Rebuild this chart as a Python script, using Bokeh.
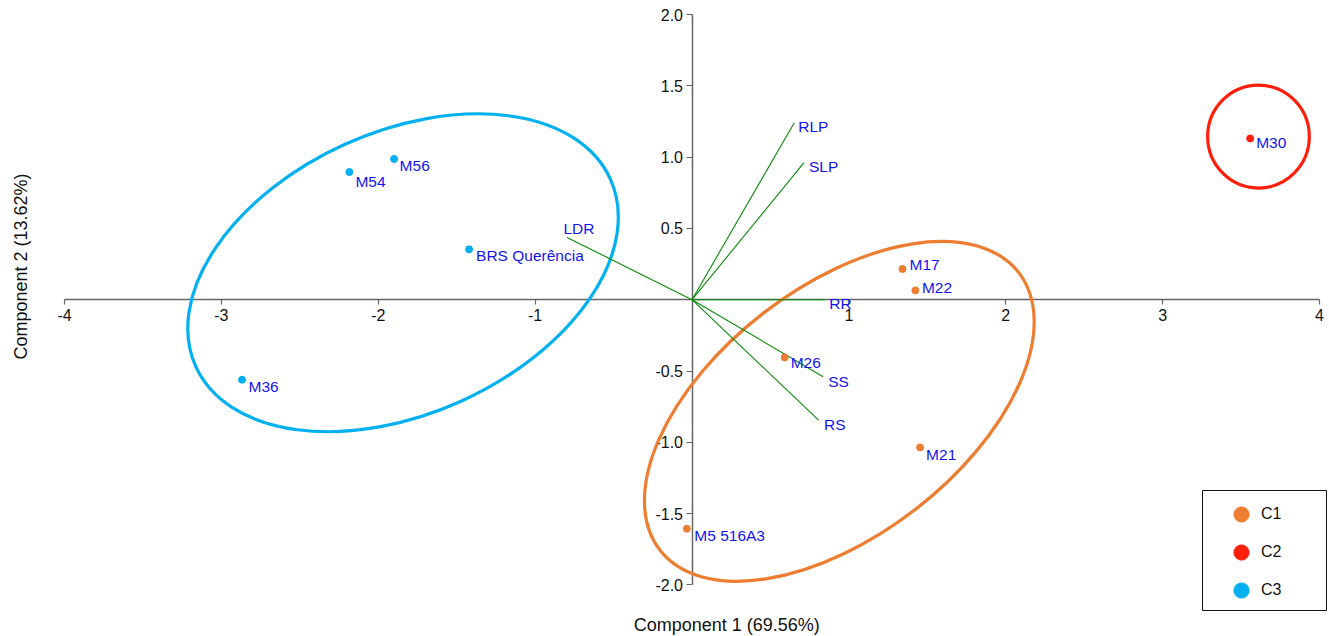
import math
from bokeh.plotting import figure
from bokeh.models import (Range1d, LinearAxis, FixedTicker, NumeralTickFormatter,
                          ColumnDataSource, Legend, LegendItem, Label, BoxAnnotation)
from bokeh.core.properties import value
from bokeh.embed import file_html
from bokeh.resources import INLINE

# ---------------- data ----------------
SAMPLES = ["M17", "M22", "M26", "M21", "M5 516A3", "M30", "M56", "M54", "BRS Querência", "M36"]
PC1 = [1.342, 1.424, 0.591, 1.454, -0.033, 3.558, -1.899, -2.184, -1.421, -2.868]
PC2 = [0.215, 0.065, -0.405, -1.036, -1.606, 1.131, 0.987, 0.895, 0.353, -0.561]
CLUSTER = ["C1", "C1", "C1", "C1", "C1", "C2", "C3", "C3", "C3", "C3"]

VARIABLES = ["RLP", "SLP", "LDR", "RR", "SS", "RS"]
LOAD1 = [0.652, 0.714, -0.797, 0.850, 0.836, 0.807]
LOAD2 = [1.241, 0.961, 0.437, 0.000, -0.540, -0.844]

CLUSTERS = ["C1", "C2", "C3"]
ELL_X = [0.939, 3.611, -1.842]
ELL_Y = [-0.783, 1.144, 0.189]
ELL_W = [2.892, 0.648, 2.900]
ELL_H = [1.742, 0.722, 1.978]
ELL_ANGLE_DEG = [37.7, 0.0, 24.3]

X_TICKS = [-4, -3, -2, -1, 1, 2, 3, 4]
Y_TICKS = [-2.0, -1.5, -1.0, -0.5, 0.5, 1.0, 1.5, 2.0]
X_BOUNDS = (-4, 4)
Y_BOUNDS = (-2, 2)
X_TITLE = "Component 1 (69.56%)"
Y_TITLE = "Component 2 (13.62%)"

# ---------------- layout & styles ----------------
W, H = 1327, 635
AX_LEFT_PX, AX_RIGHT_PX = 64.0, 1319.0     # where x = -4 and x = 4 sit
AX_TOP_PX, AX_BOTTOM_PX = 14.0, 584.4      # where y = 2 and y = -2 sit
UX = (AX_RIGHT_PX - AX_LEFT_PX) / (X_BOUNDS[1] - X_BOUNDS[0])
UY = (AX_BOTTOM_PX - AX_TOP_PX) / (Y_BOUNDS[1] - Y_BOUNDS[0])
X_START = X_BOUNDS[0] - AX_LEFT_PX / UX
X_END = X_BOUNDS[1] + (W - AX_RIGHT_PX) / UX
Y_END = Y_BOUNDS[1] + AX_TOP_PX / UY
Y_START = Y_BOUNDS[0] - (H - AX_BOTTOM_PX) / UY


def px2x(px):
    return X_START + px / UX


def py2y(py):
    return Y_END - py / UY


FONT = "Liberation Sans"
COLORS = {"C1": "#ED7D31", "C2": "#FF1E0A", "C3": "#00B0F0"}
LABEL_COLOR = "#1414F0"
AXIS_COLOR = "#666666"
VEC_COLOR = "#0A8A0A"
TEXT_COLOR = "#111111"
S_DX = [7, 6.5, 6, 6, 7.5, 6, 5.5, 6, 7, 6.5]
S_DY = [-5, -2.5, 5, 7, 7, 4, 7, 9, 6.5, 7]
V_DX = [4, 5, -3.5, 4, 5, 5.5]
V_DY = [4, 4, -9, 4, 4.5, 4]

p = figure(width=W, height=H,
           x_range=Range1d(X_START, X_END), y_range=Range1d(Y_START, Y_END),
           x_axis_type=None, y_axis_type=None,
           output_backend="svg", toolbar_location=None,
           min_border=0, min_border_left=0, min_border_right=0,
           min_border_top=0, min_border_bottom=0)
p.outline_line_color = None
p.background_fill_color = "white"
p.border_fill_color = "white"

# axes crossing at the origin
xax = LinearAxis(fixed_location=0, ticker=FixedTicker(ticks=X_TICKS),
                 formatter=NumeralTickFormatter(format="0"), bounds=X_BOUNDS)
yax = LinearAxis(fixed_location=0, ticker=FixedTicker(ticks=Y_TICKS),
                 formatter=NumeralTickFormatter(format="0.0"), bounds=Y_BOUNDS)
for ax, tout, stand in ((xax, 5, 4), (yax, 6, 3)):
    ax.level = "underlay"
    ax.axis_line_color = AXIS_COLOR
    ax.axis_line_width = 1.5
    ax.major_tick_line_color = AXIS_COLOR
    ax.major_tick_line_width = 1.2
    ax.major_tick_in = 0
    ax.major_tick_out = tout
    ax.minor_tick_line_color = None
    ax.major_label_text_font = FONT
    ax.major_label_text_font_size = "16px"
    ax.major_label_text_color = TEXT_COLOR
    ax.major_label_standoff = stand
p.add_layout(xax, "below")
p.add_layout(yax, "left")

# axis titles
p.add_layout(Label(x=px2x(726.3), y=py2y(624.3), text=X_TITLE,
                   text_align="center", text_baseline="middle",
                   text_font=FONT, text_font_size="18px", text_color=TEXT_COLOR))
p.add_layout(Label(x=px2x(20.3), y=py2y(266.0), text=Y_TITLE, angle=math.pi / 2,
                   text_align="center", text_baseline="middle",
                   text_font=FONT, text_font_size="18px", text_color=TEXT_COLOR))

# cluster ellipses
ell_src = ColumnDataSource(dict(x=ELL_X, y=ELL_Y, w=ELL_W, h=ELL_H,
                                a=[math.radians(d) for d in ELL_ANGLE_DEG],
                                c=[COLORS[k] for k in CLUSTERS]))
p.ellipse(x="x", y="y", width="w", height="h", angle="a", source=ell_src,
          fill_color=None, line_color="c", line_width=3.2)

# loading vectors
vec_src = ColumnDataSource(dict(x0=[0] * len(VARIABLES), y0=[0] * len(VARIABLES),
                                x1=LOAD1, y1=LOAD2, name=VARIABLES, dx=V_DX, dy=V_DY))
p.segment(x0="x0", y0="y0", x1="x1", y1="y1", source=vec_src,
          line_color=VEC_COLOR, line_width=1.1)
p.text(x="x1", y="y1", text="name", x_offset="dx", y_offset="dy", source=vec_src,
       text_baseline="middle", text_align="left", text_font=value(FONT),
       text_font_size="15.5px", text_color=LABEL_COLOR)

# sample points per cluster
items = []
for k in CLUSTERS:
    idx = [i for i, c in enumerate(CLUSTER) if c == k]
    src = ColumnDataSource(dict(x=[PC1[i] for i in idx], y=[PC2[i] for i in idx]))
    r = p.scatter(x="x", y="y", source=src, size=7, marker="circle",
                  fill_color=COLORS[k], line_color=COLORS[k])
    items.append(LegendItem(label=k, renderers=[r]))

lab_src = ColumnDataSource(dict(x=PC1, y=PC2, t=SAMPLES, dx=S_DX, dy=S_DY))
p.text(x="x", y="y", text="t", x_offset="dx", y_offset="dy", source=lab_src,
       text_baseline="middle", text_align="left", text_font=value(FONT),
       text_font_size="15.5px", text_color=LABEL_COLOR)

# legend frame + legend
p.add_layout(BoxAnnotation(left=px2x(1202), right=px2x(1326),
                           top=py2y(490), bottom=py2y(610),
                           fill_color="white", fill_alpha=1.0,
                           line_color=TEXT_COLOR, line_width=1, line_alpha=1.0))
legend = Legend(items=items, location=(1221, H - 609),
                padding=0, margin=0, spacing=0,
                glyph_width=40, glyph_height=38,
                label_standoff=0,
                label_text_font=FONT, label_text_font_size="16px",
                label_text_color=TEXT_COLOR,
                border_line_color=None,
                background_fill_alpha=0.0)
p.add_layout(legend)

open("out.html", "w").write(file_html(p, INLINE))
